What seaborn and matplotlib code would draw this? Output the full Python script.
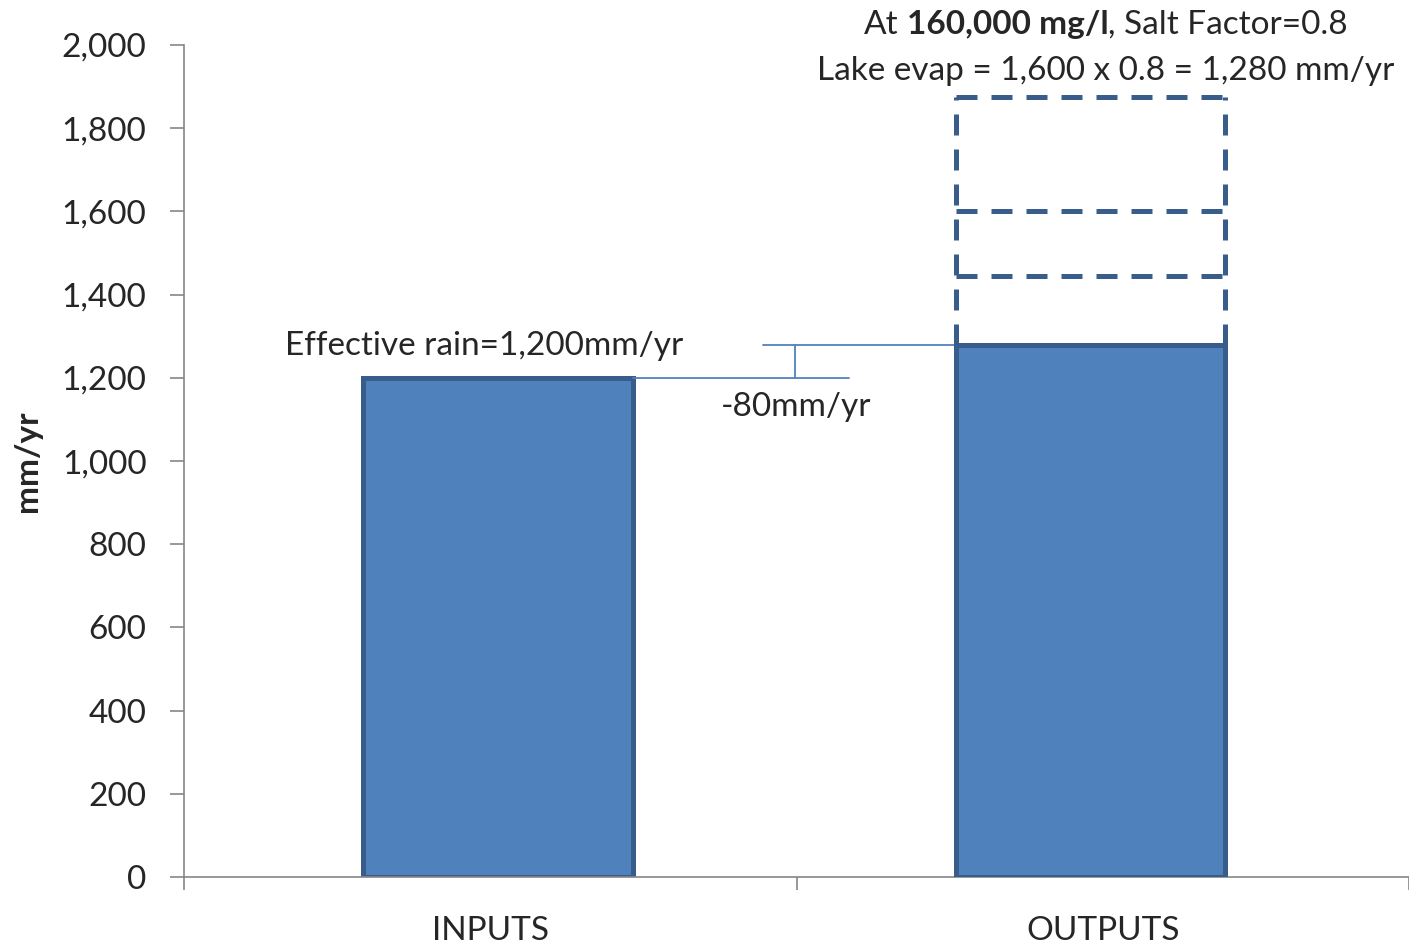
import matplotlib
matplotlib.use("Agg")
import matplotlib.pyplot as plt
import matplotlib.transforms as mtransforms
import seaborn as sns
from matplotlib.ticker import FuncFormatter, FixedLocator
from matplotlib.offsetbox import TextArea, HPacker, AnnotationBbox

# Water balance values (mm/yr)
categories = ["INPUTS", "OUTPUTS"]
values = [1200, 1280]
# Lake evaporation at lower salinities (dashed outlines above the outputs bar)
evap_levels = [1445, 1600, 1875]
y_ticks = list(range(0, 2001, 200))

FILL = "#4F81BD"
EDGE = "#385D8A"
GRID = "#868686"
FS = 24

sns.set_style("white")
plt.rcParams["font.family"] = ["Lato", "DejaVu Sans"]

fig = plt.figure(figsize=(14.09, 9.46), dpi=100)
ax = fig.add_axes([0.1306, 0.0729, 0.8694, 0.8795])

sns.barplot(x=categories, y=values, ax=ax, width=0.44, color=FILL,
            saturation=1, edgecolor=EDGE, linewidth=3.6)

# Nudge the bars slightly within their category slots
bar_nudge = [0.013, -0.020]
for patch, dx in zip(ax.patches, bar_nudge):
    patch.set_x(patch.get_x() + dx)

ax.set_xlim(-0.5, 1.5)
ax.set_ylim(0, 2000)
ax.yaxis.set_major_locator(FixedLocator(y_ticks))
ax.yaxis.set_major_formatter(FuncFormatter(lambda v, _: f"{int(v):,}"))

for side in ("top", "right"):
    ax.spines[side].set_visible(False)
for side in ("left", "bottom"):
    ax.spines[side].set_color(GRID)
    ax.spines[side].set_linewidth(1.2)

ax.tick_params(axis="y", which="major", direction="out", length=10, width=1.2,
               color=GRID, pad=17, labelsize=FS, left=True)
ax.tick_params(axis="x", which="major", length=0, pad=28, labelsize=FS)
ax.set_xticks([-0.5, 0.5, 1.5], minor=True)
ax.tick_params(axis="x", which="minor", direction="out", length=9, width=1.2,
               color=GRID, bottom=True)

ax.set_ylabel("mm/yr", fontsize=FS, fontweight="bold", labelpad=14)
ax.set_xlabel("")

in_bar, out_bar = ax.patches[0], ax.patches[1]
bx0, bw = out_bar.get_x(), out_bar.get_width()
out_bar.set_zorder(3)

# Dashed outlines for the higher evaporation scenarios
dash = dict(colors=EDGE, linewidth=3.6, linestyles=[(0, (4.2, 2.8))], zorder=1)
ax.vlines([bx0, bx0 + bw], values[1], max(evap_levels), **dash)
ax.hlines(evap_levels, bx0, bx0 + bw, **dash)

# Difference bracket between inputs and outputs
in_right = in_bar.get_x() + in_bar.get_width()
ax.plot([in_right, 0.585], [values[0], values[0]], color=FILL, lw=1.3, zorder=2)
ax.plot([0.446, bx0], [values[1], values[1]], color=FILL, lw=1.3, zorder=2)
ax.plot([0.498, 0.498], [values[0], values[1]], color=FILL, lw=1.3, zorder=2)

ax.text(-0.01, values[0] + 40, f"Effective rain={values[0]:,}mm/yr",
        ha="center", va="bottom", fontsize=FS)
ax.text(0.5, values[0] - 35, f"{values[0] - values[1]}mm/yr",
        ha="center", va="top", fontsize=FS)

# Header with partly bold text over the outputs column
head_tf = mtransforms.blended_transform_factory(ax.transData, fig.transFigure)
t_at = TextArea("At", textprops=dict(fontsize=FS))
t_bold = TextArea("160,000 mg/l", textprops=dict(fontsize=FS, fontweight="bold"))
t_rest = TextArea(", Salt Factor=0.8", textprops=dict(fontsize=FS))
line1 = HPacker(children=[HPacker(children=[t_at, t_bold], sep=6, pad=0), t_rest],
                sep=0, pad=0, align="baseline")
ab = AnnotationBbox(line1, (1.005, 0.974), xycoords=head_tf,
                    frameon=False, box_alignment=(0.5, 0.5), pad=0,
                    annotation_clip=False)
ax.add_artist(ab)

ax.text(1.005, 0.925, "Lake evap = 1,600 x 0.8 = 1,280 mm/yr",
        transform=head_tf, ha="center", va="center", fontsize=FS)

fig.savefig("out.png", dpi=100)
